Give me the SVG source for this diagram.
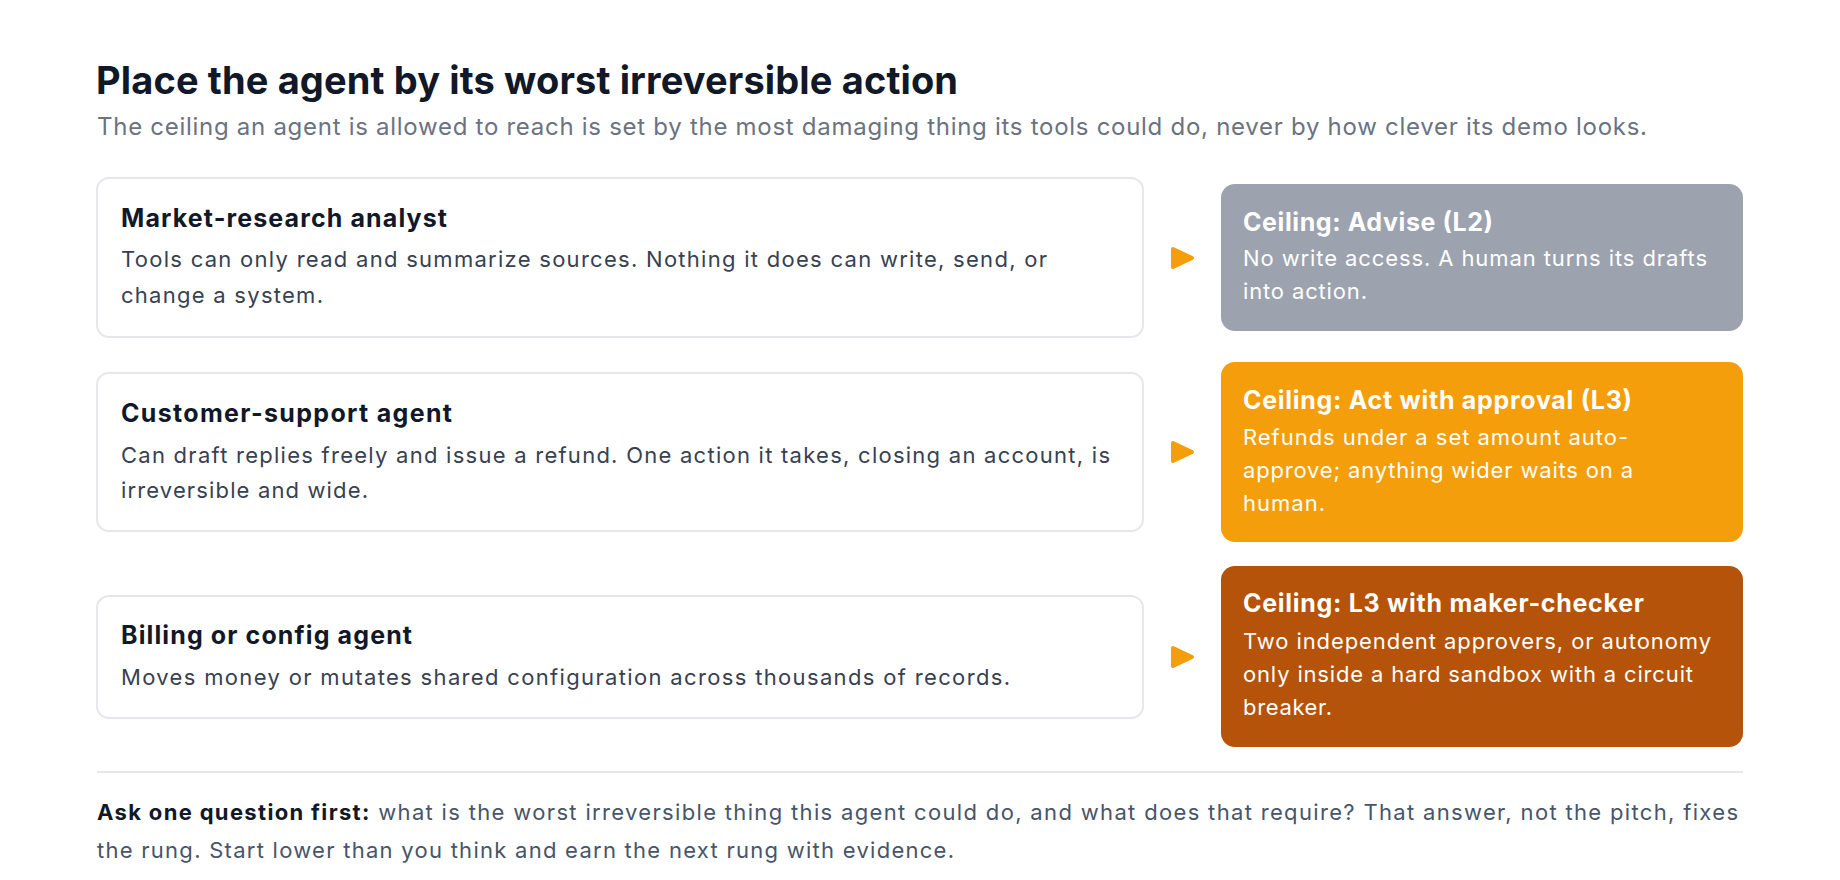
<svg xmlns="http://www.w3.org/2000/svg" width="1840" height="880" viewBox="0 0 1840 880">
<style>
text { font-family: Inter, "Noto Sans", "Liberation Sans", sans-serif; }
.title { font-size: 38px; font-weight: 700; fill: #111827; }
.sub { font-size: 24px; fill: #6b7280; }
.card { fill: #ffffff; stroke: #e5e7eb; stroke-width: 2; }
.ct { font-size: 25px; font-weight: 700; fill: #111827; }
.cb { font-size: 22px; fill: #374151; }
.rt { font-size: 25px; font-weight: 700; fill: #ffffff; }
.rb { font-size: 22px; fill: #ffffff; }
.arrow { fill: #f59e0b; stroke: #f59e0b; stroke-width: 4; stroke-linejoin: round; }
.foot { font-size: 22px; fill: #475569; }
.footb { font-weight: 700; fill: #111827; }
</style>
<rect width="1840" height="880" fill="#ffffff"/>
<text class="title" x="96" y="94" textLength="862">Place the agent by its worst irreversible action</text>
<text class="sub" x="97" y="135" textLength="1550">The ceiling an agent is allowed to reach is set by the most damaging thing its tools could do, never by how clever its demo looks.</text>

<g id="agent-market">
<rect class="card" x="97" y="178" width="1046" height="159" rx="12"/>
<text class="ct" x="121" y="227" textLength="326">Market-research analyst</text>
<text class="cb" x="121" y="267" textLength="926">Tools can only read and summarize sources. Nothing it does can write, send, or</text>
<text class="cb" x="121" y="303" textLength="202">change a system.</text>
</g>
<g id="agent-support">
<rect class="card" x="97" y="373" width="1046" height="158" rx="12"/>
<text class="ct" x="121" y="422" textLength="331">Customer-support agent</text>
<text class="cb" x="121" y="463" textLength="989">Can draft replies freely and issue a refund. One action it takes, closing an account, is</text>
<text class="cb" x="121" y="498" textLength="247">irreversible and wide.</text>
</g>
<g id="agent-billing">
<rect class="card" x="97" y="596" width="1046" height="122" rx="12"/>
<text class="ct" x="121" y="644" textLength="291">Billing or config agent</text>
<text class="cb" x="121" y="685" textLength="889">Moves money or mutates shared configuration across thousands of records.</text>
</g>

<g id="ceiling-advise">
<rect x="1221" y="184" width="522" height="147" rx="14" fill="#9ca3af"/>
<text class="rt" x="1243" y="231" textLength="250">Ceiling: Advise (L2)</text>
<text class="rb" x="1243" y="266" textLength="464">No write access. A human turns its drafts</text>
<text class="rb" x="1243" y="299" textLength="124">into action.</text>
</g>
<g id="ceiling-approval">
<rect x="1221" y="362" width="522" height="180" rx="14" fill="#f59e0b"/>
<text class="rt" x="1243" y="409" textLength="389">Ceiling: Act with approval (L3)</text>
<text class="rb" x="1243" y="445" textLength="385">Refunds under a set amount auto-</text>
<text class="rb" x="1243" y="478" textLength="390">approve; anything wider waits on a</text>
<text class="rb" x="1243" y="511" textLength="82">human.</text>
</g>
<g id="ceiling-maker-checker">
<rect x="1221" y="566" width="522" height="181" rx="14" fill="#b45309"/>
<text class="rt" x="1243" y="612" textLength="401">Ceiling: L3 with maker-checker</text>
<text class="rb" x="1243" y="649" textLength="468">Two independent approvers, or autonomy</text>
<text class="rb" x="1243" y="682" textLength="450">only inside a hard sandbox with a circuit</text>
<text class="rb" x="1243" y="715" textLength="89">breaker.</text>
</g>

<g id="connectors">
<path class="arrow" d="M1173 249 L1192 258 L1173 267 Z"/>
<path class="arrow" d="M1173 443 L1192 452 L1173 461 Z"/>
<path class="arrow" d="M1173 648 L1192 657 L1173 666 Z"/>
</g>

<line x1="97" y1="772" x2="1743" y2="772" stroke="#e5e7eb" stroke-width="2"/>
<text class="foot" x="97" y="820" textLength="1641"><tspan class="footb">Ask one question first:</tspan> what is the worst irreversible thing this agent could do, and what does that require? That answer, not the pitch, fixes</text>
<text class="foot" x="97" y="858" textLength="857">the rung. Start lower than you think and earn the next rung with evidence.</text>
</svg>
